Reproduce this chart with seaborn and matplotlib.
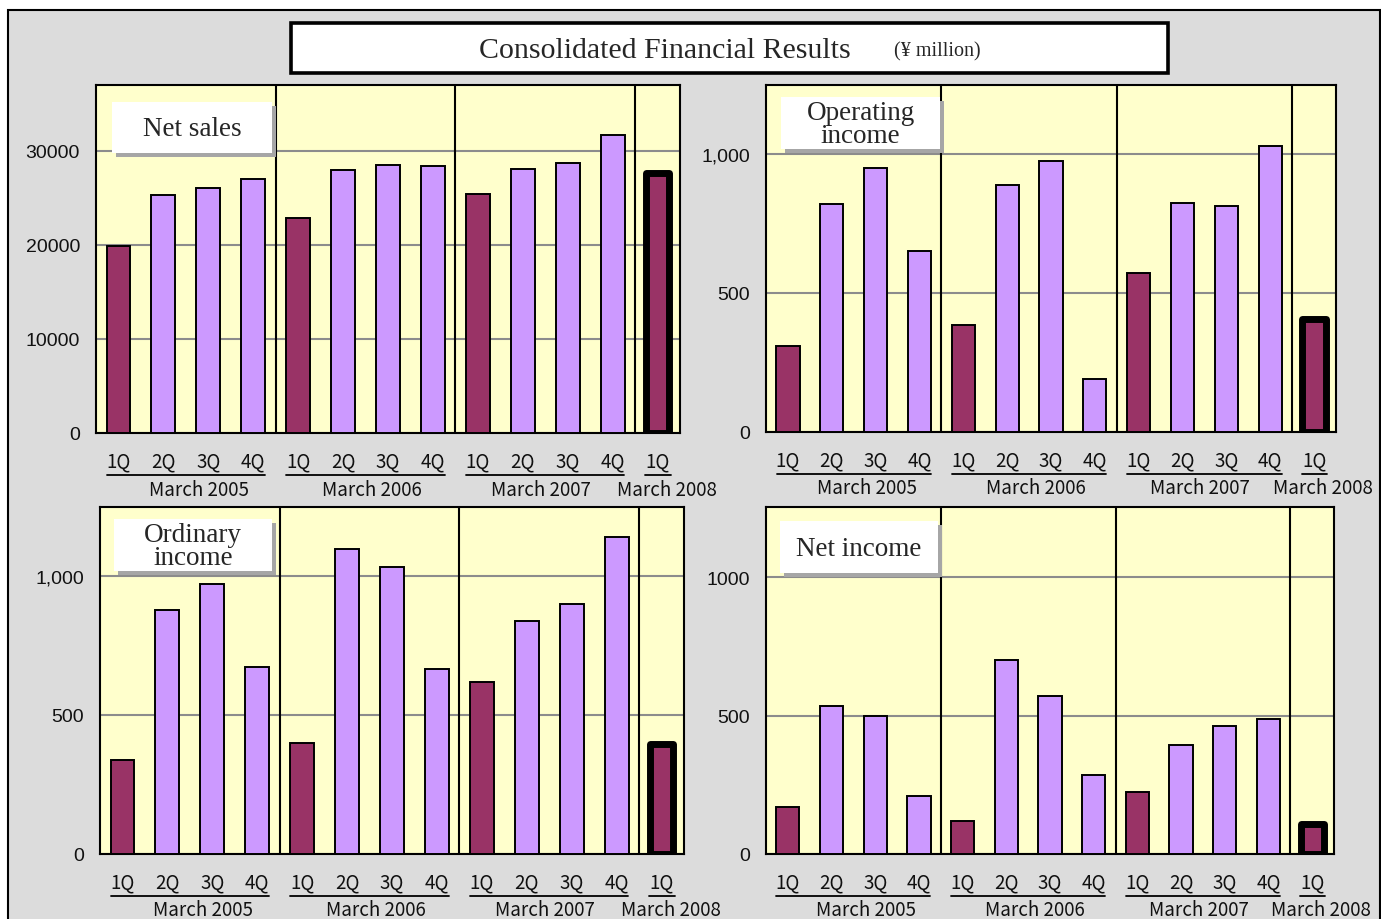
import matplotlib
matplotlib.use("Agg")
import matplotlib.pyplot as plt
import seaborn as sns
import pandas as pd
from matplotlib.patches import Rectangle
from matplotlib.lines import Line2D

# ---- data (¥ million) ----
quarters = ["1Q", "2Q", "3Q", "4Q"] * 3 + ["1Q"]
fiscal_years = ["March 2005", "March 2006", "March 2007", "March 2008"]
slot_ids = [f"{fy[-4:]}-{q}" for fy, n in zip(fiscal_years, [4, 4, 4, 1])
            for q in quarters[:n]]

net_sales = [19900, 25300, 26100, 27000, 22900, 28000, 28500, 28400,
             25400, 28100, 28700, 31700, 27600]
operating_income = [309, 820, 950, 651, 385, 888, 975, 191,
                    572, 824, 813, 1029, 408]
ordinary_income = [338, 878, 971, 673, 399, 1097, 1032, 665,
                   619, 838, 899, 1140, 394]
net_income = [170, 536, 500, 210, 120, 699, 572, 286,
              225, 395, 464, 489, 107]

sales_ticks = [0, 10000, 20000, 30000]
sales_ticklabels = ["0", "10000", "20000", "30000"]
income_ticks = [0, 500, 1000]
income_ticklabels = ["0", "500", "1,000"]
net_income_ticklabels = ["0", "500", "1000"]

# ---- style ----
W, H = 1381, 920
MAROON = "#993366"
LAVENDER = "#cc99ff"
PANEL_BG = "#ffffcc"
FRAME_BG = "#dcdcdc"
GRID = "#8c8c8c"
SERIF = ["Liberation Serif", "DejaVu Serif"]
GOTHIC = ["Noto Sans CJK JP", "DejaVu Sans"]

sns.set_theme(style="white")
plt.rcParams["font.family"] = ["Liberation Sans", "DejaVu Sans"]

fig = plt.figure(figsize=(W / 100, H / 100), dpi=100)
fig.patch.set_facecolor("white")


def fx(x):
    return x / W


def fy(y):
    return 1 - y / H


# outer grey frame
fig.add_artist(Rectangle((fx(8), fy(930)), (1380 - 8) / W, (930 - 11) / H,
                         transform=fig.transFigure, facecolor=FRAME_BG,
                         edgecolor="black", linewidth=1.5, zorder=-10))

# title box
fig.add_artist(Rectangle((fx(291), fy(74)), (1168 - 291) / W, (74 - 24) / H,
                         transform=fig.transFigure, facecolor="white",
                         edgecolor="black", linewidth=2.6, zorder=1))
fig.text(fx(665), fy(51), "Consolidated Financial Results", ha="center",
         va="center", fontsize=21.5, family=SERIF, zorder=2)
fig.text(fx(937), fy(52), "(¥ million)", ha="center", va="center",
         fontsize=14.5, family=SERIF, zorder=2)


def label_box(x0, y0, x1, y1, text):
    w, h = (x1 - x0) / W, (y1 - y0) / H
    fig.add_artist(Rectangle((fx(x0 + 4), fy(y1 + 4)), w, h,
                             transform=fig.transFigure, facecolor="#a6a6a6",
                             edgecolor="none", zorder=5))
    fig.add_artist(Rectangle((fx(x0), fy(y1)), w, h,
                             transform=fig.transFigure, facecolor="white",
                             edgecolor="none", zorder=6))
    fig.text(fx((x0 + x1) / 2), fy((y0 + y1) / 2 + 1), text, ha="center",
             va="center", fontsize=19.5, family=SERIF, linespacing=0.92,
             zorder=7)


group_spans = [(-0.26, 3.26), (3.74, 7.26), (7.74, 11.26), (11.72, 12.3)]
year_pos = [1.8, 5.65, 9.4, 12.2]


def panel(box, values, ticks, ticklabels, ymax):
    x0, y0, x1, y1 = box
    ax = fig.add_axes([fx(x0), fy(y1), (x1 - x0) / W, (y1 - y0) / H])
    ax.set_facecolor(PANEL_BG)
    df = pd.DataFrame({
        "slot": slot_ids,
        "value": values,
        "kind": ["first" if q == "1Q" else "other" for q in quarters],
    })
    sns.barplot(data=df, x="slot", y="value", hue="kind", order=slot_ids,
                hue_order=["first", "other"],
                palette={"first": MAROON, "other": LAVENDER},
                dodge=False, width=0.53, saturation=1, errorbar=None,
                edgecolor="black", linewidth=1.4, legend=False, ax=ax,
                zorder=3)
    # latest quarter gets a heavy outline
    for p in ax.patches:
        if abs(p.get_x() + p.get_width() / 2 - 12) < 0.1:
            p.set_linewidth(5)
            p.set_joinstyle("round")
    ax.set_xlim(-0.5, 12.5)
    ax.set_ylim(0, ymax)
    ax.set_xlabel("")
    ax.set_ylabel("")
    ax.set_yticks(ticks, ticklabels)
    ax.yaxis.grid(True, color=GRID, linewidth=1.5)
    ax.set_axisbelow(True)
    for xv in (3.5, 7.5, 11.5):
        ax.axvline(xv, color="black", linewidth=1.5, zorder=2.5)
    for s in ax.spines.values():
        s.set_color("black")
        s.set_linewidth(1.5)
    ax.tick_params(axis="y", direction="in", length=4.5, width=1.5,
                   color="black", pad=11.5, labelsize=14, labelcolor="#111111")
    ax.set_xticks(range(len(quarters)), quarters)
    ax.tick_params(axis="x", length=0, pad=12.5, labelsize=13.5,
                   labelcolor="#111111")
    for lab in ax.get_xticklabels():
        lab.set_fontfamily(GOTHIC)
    hpx = y1 - y0
    tr = ax.get_xaxis_transform()
    for a, b in group_spans:
        ax.add_line(Line2D([a, b], [-42 / hpx, -42 / hpx], transform=tr,
                           color="black", linewidth=1.3, clip_on=False))
    for xp, name in zip(year_pos, fiscal_years):
        ax.text(xp, -56 / hpx, name, transform=tr, ha="center", va="center",
                fontsize=13.5, family=GOTHIC, color="#111111", clip_on=False)
    return ax


panel((96, 86, 680, 434), net_sales, sales_ticks, sales_ticklabels, 37000)
panel((766, 86, 1336, 433), operating_income, income_ticks,
      income_ticklabels, 1248)
panel((100, 508, 684, 855), ordinary_income, income_ticks,
      income_ticklabels, 1248)
panel((766, 508, 1334, 855), net_income, income_ticks,
      net_income_ticklabels, 1253)

label_box(112, 103, 272, 154, "Net sales")
label_box(781, 98, 940, 150, "Operating\nincome")
label_box(114, 520, 272, 572, "Ordinary\nincome")
label_box(780, 522, 938, 574, "Net income")

fig.savefig("out.png", dpi=100)
